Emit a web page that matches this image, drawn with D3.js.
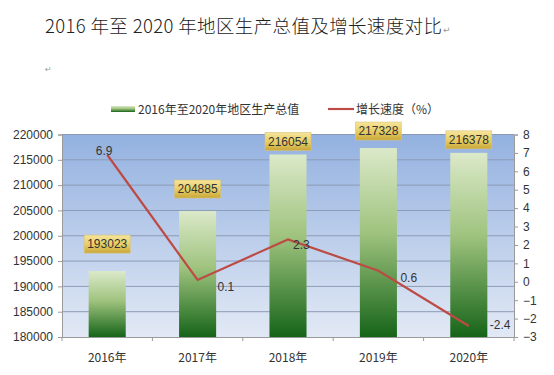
<!doctype html>
<html>
<head>
<meta charset="utf-8">
<script src="https://d3js.org/d3.v7.min.js"></script>
<style>
  body { margin: 0; background: #fff; }
  text { font-family: "Noto Sans CJK SC", "Noto Sans", sans-serif; }
</style>
</head>
<body>
<div id="chart"></div>
<script>
// data
var years = ["2016年", "2017年", "2018年", "2019年", "2020年"];
var gdp = [193023, 204885, 216054, 217328, 216378];
var growth = [6.9, 0.1, 2.3, 0.6, -2.4];
var leftTicks = [180000, 185000, 190000, 195000, 200000, 205000, 210000, 215000, 220000];
var rightTicks = [-3, -2, -1, 0, 1, 2, 3, 4, 5, 6, 7, 8];

// label placement (layout only)
var boxLift = [27, 22, 13, 17, 13];
var growthDx = [-3, 20, 5, 22, 21];
var growthDy = [0, 11, 10, 11, 3];
var growthAnchor = ["middle", "start", "start", "start", "start"];

var W = 554, H = 375;
var plot = {left: 62, top: 134.5, right: 514, bottom: 337};

var svg = d3.select("#chart").append("svg")
    .attr("width", W).attr("height", H);

var defs = svg.append("defs");
var bg = defs.append("linearGradient").attr("id", "bg")
    .attr("x1", 0).attr("y1", 0).attr("x2", 0).attr("y2", 1);
bg.append("stop").attr("offset", "0%").attr("stop-color", "#93b1e0");
bg.append("stop").attr("offset", "100%").attr("stop-color", "#e2e9f5");

var barG = defs.append("linearGradient").attr("id", "barG")
    .attr("x1", 0).attr("y1", 0).attr("x2", 0).attr("y2", 1);
barG.append("stop").attr("offset", "0%").attr("stop-color", "#dbe9c9");
barG.append("stop").attr("offset", "45%").attr("stop-color", "#9fc37e");
barG.append("stop").attr("offset", "100%").attr("stop-color", "#156418");

var gold = defs.append("linearGradient").attr("id", "gold")
    .attr("x1", 0).attr("y1", 0).attr("x2", 0).attr("y2", 1);
gold.append("stop").attr("offset", "0%").attr("stop-color", "#f6e59a");
gold.append("stop").attr("offset", "55%").attr("stop-color", "#e6cc63");
gold.append("stop").attr("offset", "100%").attr("stop-color", "#c9a73a");

// title
var title = svg.append("text")
    .attr("x", 45).attr("y", 33)
    .attr("font-size", 18.5).attr("font-weight", 300).attr("fill", "#222")
    .attr("textLength", 397).attr("lengthAdjust", "spacing")
    .text("2016 年至 2020 年地区生产总值及增长速度对比");
svg.append("text")
    .attr("x", 443).attr("y", 33)
    .attr("font-size", 9).attr("fill", "#999")
    .style("font-family", "DejaVu Sans")
    .text("↵");
svg.append("text")
    .attr("x", 45).attr("y", 72)
    .attr("font-size", 8).attr("fill", "#999")
    .style("font-family", "DejaVu Sans")
    .text("↵");

// scales
var x = d3.scaleBand().domain(years)
    .range([plot.left, plot.right]).paddingInner(0.59).paddingOuter(0.295);
var xc = function(d) { return x(d) + x.bandwidth() / 2; };
var yL = d3.scaleLinear().domain([180000, 220000]).range([plot.bottom, plot.top]);
var yR = d3.scaleLinear().domain([-3, 8]).range([plot.bottom, plot.top]);

// plot background
svg.append("rect")
    .attr("x", plot.left).attr("y", plot.top)
    .attr("width", plot.right - plot.left).attr("height", plot.bottom - plot.top)
    .attr("fill", "url(#bg)");

// gridlines
svg.append("g").selectAll("line")
    .data(leftTicks.slice(1))
    .join("line")
    .attr("x1", plot.left).attr("x2", plot.right)
    .attr("y1", function(d) { return yL(d); })
    .attr("y2", function(d) { return yL(d); })
    .attr("stroke", "#8c9bb5").attr("stroke-width", 1);

// bars
svg.append("g").selectAll("rect")
    .data(gdp)
    .join("rect")
    .attr("x", function(d, i) { return x(years[i]); })
    .attr("y", function(d) { return yL(d); })
    .attr("width", x.bandwidth())
    .attr("height", function(d) { return plot.bottom - yL(d); })
    .attr("fill", "url(#barG)");

// left axis
var axL = svg.append("g")
    .attr("transform", "translate(" + plot.left + ",0)")
    .call(d3.axisLeft(yL).tickValues(leftTicks).tickSize(4).tickPadding(5).tickFormat(d3.format("d")));
axL.select(".domain").attr("stroke", "#9a9a9a");
axL.selectAll(".tick line").attr("stroke", "#9a9a9a");
axL.selectAll("text").attr("font-size", 12).attr("fill", "#333")
    .style("font-family", "'Liberation Sans', sans-serif");

// right axis
var axR = svg.append("g")
    .attr("transform", "translate(" + plot.right + ",0)")
    .call(d3.axisRight(yR).tickValues(rightTicks).tickSize(4).tickPadding(5));
axR.select(".domain").attr("stroke", "#9a9a9a");
axR.selectAll(".tick line").attr("stroke", "#9a9a9a");
axR.selectAll("text").attr("font-size", 12).attr("fill", "#333")
    .style("font-family", "'Liberation Sans', sans-serif");

// bottom axis
var axB = svg.append("g")
    .attr("transform", "translate(0," + plot.bottom + ")")
    .call(d3.axisBottom(x).tickSize(0).tickPadding(16));
axB.select(".domain").attr("stroke", "#9a9a9a");
axB.selectAll("text").attr("font-size", 12).attr("fill", "#333");
axB.selectAll(".sep")
    .data(d3.range(years.length + 1))
    .join("line")
    .attr("x1", function(i) { return plot.left + i * x.step(); })
    .attr("x2", function(i) { return plot.left + i * x.step(); })
    .attr("y1", 0).attr("y2", 4)
    .attr("stroke", "#9a9a9a");

// growth line
var line = d3.line()
    .x(function(d, i) { return xc(years[i]); })
    .y(function(d) { return yR(d); });
svg.append("path")
    .datum(growth)
    .attr("d", line)
    .attr("fill", "none")
    .attr("stroke", "#bd4b45")
    .attr("stroke-width", 2.2);

// growth labels
svg.append("g").selectAll("text")
    .data(growth)
    .join("text")
    .attr("x", function(d, i) { return xc(years[i]) + growthDx[i]; })
    .attr("y", function(d, i) { return yR(d) + growthDy[i]; })
    .attr("text-anchor", function(d, i) { return growthAnchor[i]; })
    .attr("font-size", 12).attr("fill", "#333")
    .style("font-family", "'Liberation Sans', sans-serif")
    .text(function(d) { return d; });

// bar value labels
var lab = svg.append("g").selectAll("g")
    .data(gdp)
    .join("g")
    .attr("transform", function(d, i) {
        return "translate(" + xc(years[i]) + "," + (yL(d) - boxLift[i]) + ")";
    });
lab.append("rect")
    .attr("x", -23).attr("y", -9).attr("width", 46).attr("height", 18)
    .attr("fill", "url(#gold)")
    .attr("stroke", "#d9c47a").attr("stroke-width", 0.6);
lab.append("text")
    .attr("text-anchor", "middle").attr("dy", "0.36em")
    .attr("font-size", 12).attr("fill", "#333")
    .style("font-family", "'Liberation Sans', sans-serif")
    .text(function(d) { return d; });

// legend
var leg = svg.append("g");
leg.append("rect")
    .attr("x", 111).attr("y", 106).attr("width", 24).attr("height", 6)
    .attr("fill", "url(#barG)");
leg.append("text")
    .attr("x", 138).attr("y", 113.5)
    .attr("font-size", 12).attr("fill", "#333")
    .text("2016年至2020年地区生产总值");
leg.append("line")
    .attr("x1", 328).attr("x2", 354).attr("y1", 109).attr("y2", 109)
    .attr("stroke", "#bd4b45").attr("stroke-width", 2.2);
leg.append("text")
    .attr("x", 356).attr("y", 113.5)
    .attr("font-size", 12).attr("fill", "#333")
    .text("增长速度（%）");
</script>
</body>
</html>
